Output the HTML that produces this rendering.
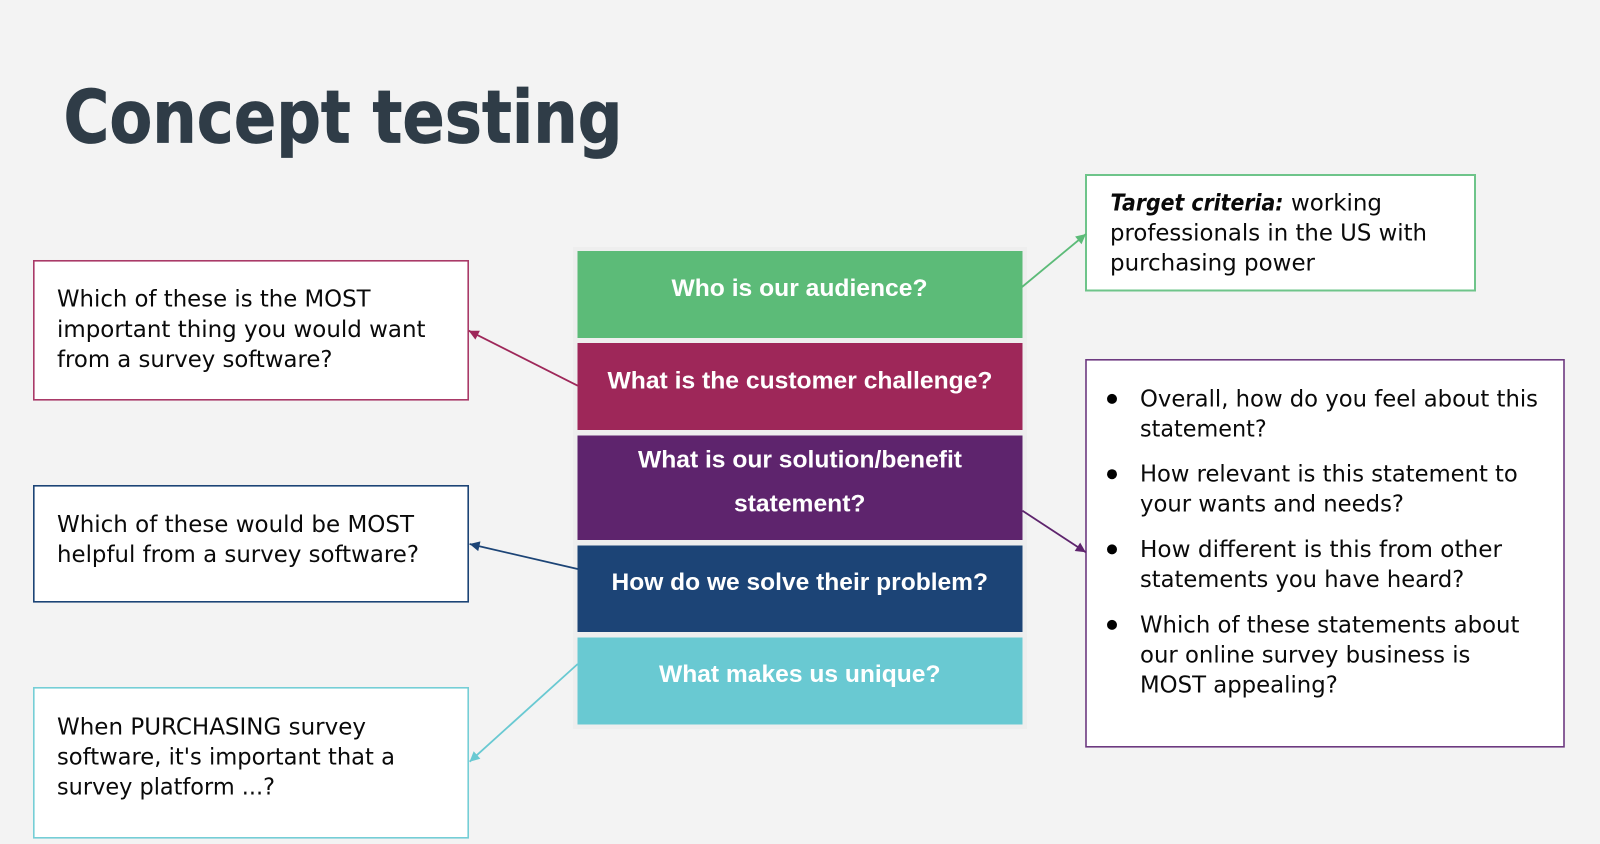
<!DOCTYPE html>
<html lang="en"><head><meta charset="utf-8"><title>Concept testing</title>
<style>
html,body{margin:0;padding:0;background:#f3f3f3;width:1600px;height:844px;overflow:hidden}
svg{display:block}
.t{font-family:"DejaVu Sans","Liberation Sans",sans-serif;font-size:23.5px;fill:#0a0a0a}
.c{font-family:"Liberation Sans",Arial,sans-serif;font-weight:700;font-size:24.5px;fill:#fff}
.h{font-family:"DejaVu Sans","Liberation Sans",sans-serif;font-weight:700;font-size:73px;fill:#2f3c47;stroke:#2f3c47;stroke-width:.8px}
</style></head><body>
<svg width="1600" height="844" viewBox="0 0 1600 844" xmlns="http://www.w3.org/2000/svg">
<defs>
<marker id="mg" viewBox="0 0 10 10" refX="10" refY="5" markerWidth="11" markerHeight="10" markerUnits="userSpaceOnUse" orient="auto"><path d="M0 0L10 5L0 10Z" fill="#5cbb78"/></marker>
<marker id="mc" viewBox="0 0 10 10" refX="10" refY="5" markerWidth="11" markerHeight="10" markerUnits="userSpaceOnUse" orient="auto"><path d="M0 0L10 5L0 10Z" fill="#9e2759"/></marker>
<marker id="mp" viewBox="0 0 10 10" refX="10" refY="5" markerWidth="11" markerHeight="10" markerUnits="userSpaceOnUse" orient="auto"><path d="M0 0L10 5L0 10Z" fill="#5e246d"/></marker>
<marker id="mn" viewBox="0 0 10 10" refX="10" refY="5" markerWidth="11" markerHeight="10" markerUnits="userSpaceOnUse" orient="auto"><path d="M0 0L10 5L0 10Z" fill="#1c4476"/></marker>
<marker id="mt" viewBox="0 0 10 10" refX="10" refY="5" markerWidth="11" markerHeight="10" markerUnits="userSpaceOnUse" orient="auto"><path d="M0 0L10 5L0 10Z" fill="#69c9d2"/></marker>
</defs>
<rect width="1600" height="844" fill="#f3f3f3"/>
<text class="h" x="63.500" y="142.500" textLength="559" lengthAdjust="spacingAndGlyphs">Concept testing</text>

<rect x="573" y="247" width="454" height="482" fill="#eeeeee"/>
<rect x="577.500" y="251" width="445" height="87" fill="#5cbb78"/>
<rect x="577.500" y="343" width="445" height="87" fill="#9e2759"/>
<rect x="577.500" y="435.500" width="445" height="104.500" fill="#5e246d"/>
<rect x="577.500" y="545.500" width="445" height="86.500" fill="#1c4476"/>
<rect x="577.500" y="637.500" width="445" height="87" fill="#69c9d2"/>
<text class="c" x="671.500" y="296" textLength="256" lengthAdjust="spacingAndGlyphs">Who is our audience?</text>
<text class="c" x="607.500" y="388.500" textLength="385" lengthAdjust="spacingAndGlyphs">What is the customer challenge?</text>
<text class="c" x="638" y="467.500" textLength="324" lengthAdjust="spacingAndGlyphs">What is our solution/benefit</text>
<text class="c" x="734" y="511.500" textLength="131.500" lengthAdjust="spacingAndGlyphs">statement?</text>
<text class="c" x="611.500" y="590" textLength="376.500" lengthAdjust="spacingAndGlyphs">How do we solve their problem?</text>
<text class="c" x="659" y="682" textLength="281.500" lengthAdjust="spacingAndGlyphs">What makes us unique?</text>

<rect x="33.800" y="260.800" width="434.400" height="139" fill="#fff" stroke="#a93a68" stroke-width="1.600"/>
<rect x="33.800" y="485.800" width="434.400" height="116" fill="#fff" stroke="#1c4476" stroke-width="1.600"/>
<rect x="33.800" y="687.800" width="434.400" height="150" fill="#fff" stroke="#75ced6" stroke-width="1.600"/>
<rect x="1086" y="175" width="389" height="115.500" fill="#fff" stroke="#6ec48a" stroke-width="2"/>
<rect x="1086" y="359.800" width="478" height="387" fill="#fff" stroke="#6d3a80" stroke-width="1.600"/>

<line x1="1022" y1="287" x2="1086" y2="234" stroke="#5cbb78" stroke-width="1.800" marker-end="url(#mg)"/>
<line x1="577.700" y1="385.700" x2="468.700" y2="330.700" stroke="#9e2759" stroke-width="1.800" marker-end="url(#mc)"/>
<line x1="1022.500" y1="510.700" x2="1085.800" y2="552.300" stroke="#5e246d" stroke-width="1.800" marker-end="url(#mp)"/>
<line x1="577.700" y1="569" x2="469.600" y2="544" stroke="#1c4476" stroke-width="1.800" marker-end="url(#mn)"/>
<line x1="577.700" y1="664" x2="469.600" y2="761.700" stroke="#69c9d2" stroke-width="1.800" marker-end="url(#mt)"/>

<g transform="translate(0,-0.6)">
<text class="t" x="57" y="307" textLength="313.500" lengthAdjust="spacingAndGlyphs">Which of these is the MOST</text>
<text class="t" x="57" y="337.500" textLength="368.500" lengthAdjust="spacingAndGlyphs">important thing you would want</text>
<text class="t" x="57" y="367.500" textLength="275.500" lengthAdjust="spacingAndGlyphs">from a survey software?</text>

<text class="t" x="57" y="532.500" textLength="357" lengthAdjust="spacingAndGlyphs">Which of these would be MOST</text>
<text class="t" x="57" y="562.500" textLength="362" lengthAdjust="spacingAndGlyphs">helpful from a survey software?</text>

<text class="t" x="57" y="735" textLength="309" lengthAdjust="spacingAndGlyphs">When PURCHASING survey</text>
<text class="t" x="57" y="765" textLength="338" lengthAdjust="spacingAndGlyphs">software, it's important that a</text>
<text class="t" x="57" y="795" textLength="218" lengthAdjust="spacingAndGlyphs">survey platform ...?</text>

<text class="t" x="1110.500" y="211" textLength="173" lengthAdjust="spacingAndGlyphs" font-weight="700" font-style="italic">Target criteria:</text>
<text class="t" x="1291" y="211" textLength="91" lengthAdjust="spacingAndGlyphs">working</text>
<text class="t" x="1110" y="241" textLength="317" lengthAdjust="spacingAndGlyphs">professionals in the US with</text>
<text class="t" x="1110" y="271" textLength="205" lengthAdjust="spacingAndGlyphs">purchasing power</text>

<circle cx="1112" cy="399.500" r="5" fill="#000"/>
<circle cx="1112" cy="474.800" r="5" fill="#000"/>
<circle cx="1112" cy="550" r="5" fill="#000"/>
<circle cx="1112" cy="625.500" r="5" fill="#000"/>
<text class="t" x="1140" y="407" textLength="398" lengthAdjust="spacingAndGlyphs">Overall, how do you feel about this</text>
<text class="t" x="1140" y="437" textLength="126.700" lengthAdjust="spacingAndGlyphs">statement?</text>
<text class="t" x="1140" y="482.300" textLength="377.800" lengthAdjust="spacingAndGlyphs">How relevant is this statement to</text>
<text class="t" x="1140" y="512.300" textLength="264" lengthAdjust="spacingAndGlyphs">your wants and needs?</text>
<text class="t" x="1140" y="557.600" textLength="362" lengthAdjust="spacingAndGlyphs">How different is this from other</text>
<text class="t" x="1140" y="587.600" textLength="324.300" lengthAdjust="spacingAndGlyphs">statements you have heard?</text>
<text class="t" x="1140" y="633" textLength="379.400" lengthAdjust="spacingAndGlyphs">Which of these statements about</text>
<text class="t" x="1140" y="663" textLength="330.400" lengthAdjust="spacingAndGlyphs">our online survey business is</text>
<text class="t" x="1140" y="693" textLength="197.800" lengthAdjust="spacingAndGlyphs">MOST appealing?</text>
</g>
</svg>
</body></html>
